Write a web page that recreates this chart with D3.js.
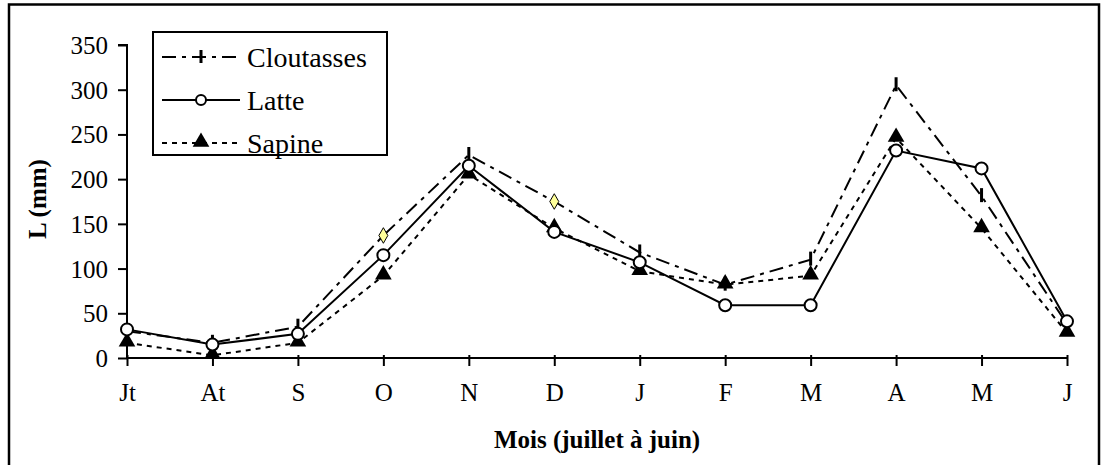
<!DOCTYPE html>
<html><head><meta charset="utf-8">
<script src="https://cdn.jsdelivr.net/npm/d3@7"></script>
<style>html,body{margin:0;padding:0;background:#fff;}svg{display:block;}
svg text{font-family:"Liberation Serif","Times New Roman",Times,serif;}</style>
</head><body>
<svg id="chart" width="1101" height="465"></svg>
<script>
const months = ["Jt","At","S","O","N","D","J","F","M","A","M","J"];
const cloutasses = [30,17,35,137,227,175,118,82,110,305,181,38];
const latte = [32,15,27,115,215,141,107,59,59,232,212,41];
const sapine = [17,3,17,92,205,145,97,82,92,246,145,28];
const yTicks = [0,50,100,150,200,250,300,350];
const seriesNames = ["Cloutasses","Latte","Sapine"];
const highlighted = [3,5]; // Cloutasses points shown with yellow diamond

const svg = d3.select("#chart");
svg.append("rect").attr("x",9).attr("y",4.5).attr("width",1090).attr("height",470)
  .attr("fill","none").attr("stroke","#000").attr("stroke-width",2.5);

const x = d3.scalePoint().domain(d3.range(months.length)).range([127,1067]);
const y = d3.scaleLinear().domain([0,350]).range([358,45]);

const g = svg.append("g");
// y axis
const ya = g.append("g").attr("transform","translate(127,0)")
  .call(d3.axisLeft(y).tickValues(yTicks).tickSize(9).tickPadding(10));
ya.select(".domain").attr("d",`M-9,${y(350)}H0V${y(0)}`).attr("stroke-width",2);
ya.selectAll(".tick line").attr("stroke-width",2);
ya.selectAll("text").attr("font-size",25).attr("fill","#000").attr("dy","0.34em");
// x axis
const xa = g.append("g").attr("transform","translate(0,358)")
  .call(d3.axisBottom(x).tickFormat(i=>months[i]).tickSize(8).tickPadding(17));
xa.select(".domain").attr("d",`M127,0H1067`).attr("stroke-width",2);
xa.selectAll(".tick line").attr("y1",-3).attr("stroke-width",2);
xa.selectAll("text").attr("font-size",25).attr("fill","#000").attr("dy","0.71em");
ya.attr("font-family",null); xa.attr("font-family",null);

const line = d3.line().x((d,i)=>x(i)).y(d=>y(d));
const styles = [
  {data:cloutasses, dash:"14,6,4,6"},
  {data:latte, dash:null},
  {data:sapine, dash:"5,5"}
];
styles.forEach(s=>{
  g.append("path").datum(s.data).attr("d",line).attr("fill","none")
   .attr("stroke","#000").attr("stroke-width",2).attr("stroke-dasharray",s.dash);
});
// markers
const tri = d3.symbol().type(d3.symbolTriangle).size(120);
g.selectAll(".sap").data(sapine).join("path")
  .attr("transform",(d,i)=>`translate(${x(i)},${y(d)-1})`).attr("d",tri).attr("fill","#000");
const cloPts = cloutasses.map((v,i)=>({v,i})).filter(p=>!highlighted.includes(p.i));
g.selectAll(".clo").data(cloPts).join("line")
  .attr("x1",p=>x(p.i)).attr("x2",p=>x(p.i))
  .attr("y1",p=>y(p.v)-8).attr("y2",p=>y(p.v)+6).attr("stroke","#000").attr("stroke-width",3);
g.selectAll(".hl").data(highlighted).join("path")
  .attr("transform",i=>`translate(${x(i)},${y(cloutasses[i])})`)
  .attr("d",d3.symbol().type(d3.symbolDiamond).size(70))
  .attr("fill","#ffff99").attr("stroke","#000").attr("stroke-width",1);
g.selectAll(".lat").data(latte).join("circle")
  .attr("cx",(d,i)=>x(i)).attr("cy",d=>y(d)).attr("r",6)
  .attr("fill","#fff").attr("stroke","#000").attr("stroke-width",2);

// titles
svg.append("text").attr("x",597).attr("y",448).attr("text-anchor","middle")
  .attr("font-weight","bold").attr("font-size",25).text("Mois (juillet à juin)");
svg.append("text").attr("transform","translate(46,199) rotate(-90)").attr("text-anchor","middle")
  .attr("font-weight","bold").attr("font-size",25).text("L (mm)");

// legend
const lg = svg.append("g");
lg.append("rect").attr("x",153).attr("y",32).attr("width",234).attr("height",123)
  .attr("fill","#fff").attr("stroke","#000").attr("stroke-width",2);
const ly = [57,100,143];
seriesNames.forEach((n,k)=>{
  lg.append("line").attr("x1",162).attr("x2",240).attr("y1",ly[k]).attr("y2",ly[k])
    .attr("stroke","#000").attr("stroke-width",2).attr("stroke-dasharray",styles[k].dash);
  lg.append("text").attr("x",247).attr("y",ly[k]).attr("dy","0.34em")
    .attr("font-size",28).text(n);
});
lg.append("line").attr("x1",201).attr("x2",201).attr("y1",ly[0]-7).attr("y2",ly[0]+6).attr("stroke","#000").attr("stroke-width",3);
lg.append("circle").attr("cx",201).attr("cy",ly[1]).attr("r",5).attr("fill","#fff").attr("stroke","#000").attr("stroke-width",2);
lg.append("path").attr("transform",`translate(201,${ly[2]-1})`).attr("d",tri).attr("fill","#000");
</script>
</body></html>
